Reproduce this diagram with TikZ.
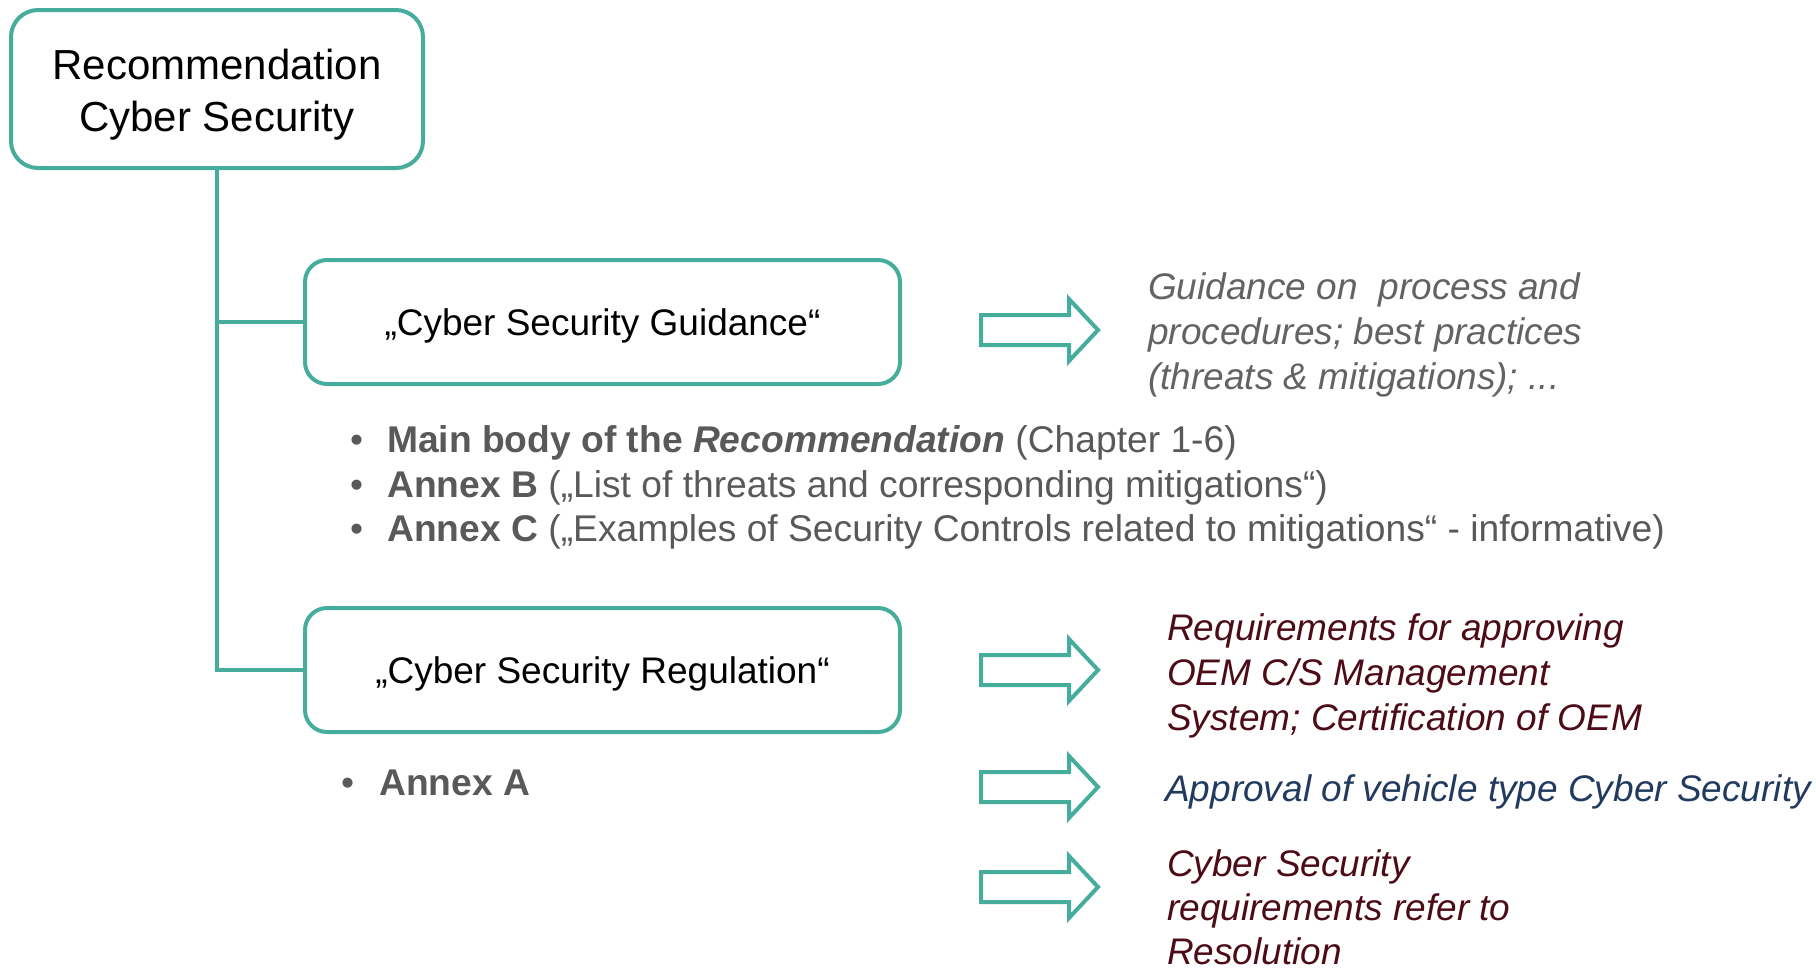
\documentclass[tikz,border=0pt]{standalone}
\usepackage{fontspec}
\setmainfont{Liberation Sans}
\definecolor{cteal}{HTML}{46AD9D}
\definecolor{cgray}{HTML}{595959}
\definecolor{cgray2}{HTML}{636363}
\definecolor{cmaroon}{HTML}{4C0B16}
\definecolor{cblue}{HTML}{223A5E}
\begin{document}
\begin{tikzpicture}[x=1pt,y=-1pt,
  topbox/.style={draw=cteal, line width=4pt, rounded corners=27pt, fill=white, inner sep=0pt,
    minimum width=412pt, minimum height=158pt, align=center},
  subbox/.style={draw=cteal, line width=4pt, rounded corners=22pt, fill=white, inner sep=0pt,
    minimum width=595pt, minimum height=124pt, align=center},
  boxtext/.style={inner sep=0pt, align=center},
  link/.style={draw=cteal, line width=4pt},
  rtext/.style={anchor=west, inner sep=0pt, align=left, font=\fontsize{37}{45}\selectfont\itshape},
  blist/.style={anchor=west, inner sep=0pt, align=left, text=cgray, font=\fontsize{37.2}{44.5}\selectfont},
  harrow/.pic={\draw[cteal, line width=4pt, line join=miter]
     (-117,-15) -- (-29,-15) -- (-29,-31) -- (0,0) -- (-29,31) -- (-29,15) -- (-117,15) -- cycle;}
  ]
\useasboundingbox (0,0) rectangle (1816,970);

\node[topbox] (top) at (217,89) {};
\node[boxtext, font=\fontsize{42}{52}\selectfont] (toptext) at (217,95) {Recommendation\\Cyber Security};
\node[subbox] (guid) at (602.5,322) {};
\node[boxtext, font=\fontsize{37}{45}\selectfont] (guidtext) at (602.5,325.5) {„Cyber Security Guidance“};
\node[subbox] (reg) at (602.5,670) {};
\node[boxtext, font=\fontsize{37}{45}\selectfont] (regtext) at (602.5,673.5) {„Cyber Security Regulation“};

\draw[link] (top.south) -- (top.south |- reg.west) -- (reg.west);
\draw[link] (top.south |- guid.west) -- (guid.west);

\pic at (1098,330) {harrow};
\pic at (1098,670) {harrow};
\pic at (1098,787) {harrow};
\pic at (1098,887) {harrow};

\node[rtext, text=cgray2] (gtext) at (1148,334.5)
  {Guidance on\ \ process and\\procedures; best practices\\(threats \& mitigations); ...};
\node[rtext, text=cmaroon] (rtext1) at (1167,675.5)
  {Requirements for approving\\OEM C/S Management\\System; Certification of OEM};
\node[rtext, text=cblue] (rtext2) at (1165,791.5)
  {Approval of vehicle type Cyber Security};
\node[rtext, text=cmaroon, font=\fontsize{37}{44}\selectfont\itshape] (rtext3) at (1167,907)
  {Cyber Security\\requirements refer to\\Resolution};

\node[blist] (glist) at (350,487.5)
  {\makebox[37pt][l]{•}\textbf{Main body of the \textit{Recommendation}} (Chapter 1-6)\\
   \makebox[37pt][l]{•}\textbf{Annex B} („List of threats and corresponding mitigations“)\\
   \makebox[37pt][l]{•}\textbf{Annex C} („Examples of Security Controls related to mitigations“ - informative)};
\node[blist] (rlist) at (341,783)
  {\makebox[38pt][l]{•}\textbf{Annex A}};
\end{tikzpicture}
\end{document}
